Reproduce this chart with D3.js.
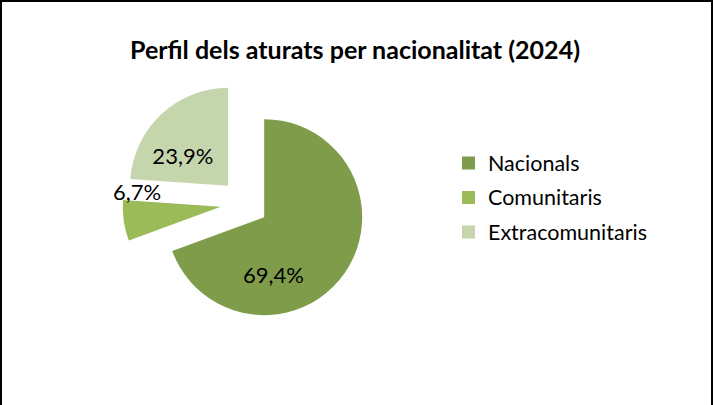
<!DOCTYPE html>
<html>
<head>
<meta charset="utf-8">
<script src="https://cdn.jsdelivr.net/npm/d3@7"></script>
<style>
  html, body { margin: 0; padding: 0; background: #fff; }
  svg { display: block; }
</style>
</head>
<body>
<svg width="713" height="405"></svg>
<script>
const title = 'Perfil dels aturats per nacionalitat (2024)';
const categories = ['Nacionals', 'Comunitaris', 'Extracomunitaris'];
const values = [69.4, 6.7, 23.9];
const colors = ['#7f9c4a', '#9bbb59', '#c5d6ac'];

// label placement tweaks (degrees added to mid angle, distance from slice apex)
const labelAngleShift = [46, 18, -14];
const labelDist = [59, 85, 54];

const width = 713, height = 405;
const cx = 244.5, cy = 203.4, radius = 98, explode = 24;

const fmt = v => d3.format('.1f')(v).replace('.', ',') + '%';

let svg = d3.select('svg');

svg.append('rect')
    .attr('x', 1).attr('y', 1)
    .attr('width', width - 2).attr('height', height + 10)
    .attr('fill', '#fff')
    .attr('stroke', '#000')
    .attr('stroke-width', 2);

svg.append('text')
    .attr('x', 355).attr('y', 59)
    .attr('text-anchor', 'middle')
    .attr('font-family', 'Lato, "Open Sans", sans-serif')
    .attr('font-weight', 'bold')
    .attr('font-size', 24)
    .attr('textLength', 450)
    .attr('lengthAdjust', 'spacingAndGlyphs')
    .text(title);

let data = categories.map((c, i) => ({ name: c, value: values[i], i }));

let pie = d3.pie().sort(null).value(d => d.value);
let arc = d3.arc().innerRadius(0).outerRadius(radius);

let arcs = pie(data);

const polar = (a, r) => [Math.sin(a) * r, -Math.cos(a) * r];

let g = svg.append('g').attr('transform', `translate(${cx},${cy})`);

let slice = g.selectAll('g.slice')
    .data(arcs)
    .enter().append('g')
    .attr('class', 'slice')
    .attr('transform', d => {
      let [dx, dy] = polar((d.startAngle + d.endAngle) / 2, explode);
      return `translate(${dx},${dy})`;
    });

slice.append('path')
    .attr('d', arc)
    .attr('fill', d => colors[d.data.i]);

slice.append('text')
    .attr('transform', d => {
      let a = (d.startAngle + d.endAngle) / 2 + labelAngleShift[d.data.i] * Math.PI / 180;
      let [x, y] = polar(a, labelDist[d.data.i]);
      return `translate(${x},${y})`;
    })
    .attr('text-anchor', 'middle')
    .attr('dy', '0.35em')
    .attr('font-family', 'Lato, "Open Sans", sans-serif')
    .attr('font-size', 22)
    .attr('fill', '#000')
    .text(d => fmt(d.data.value));

let legend = svg.append('g').attr('transform', 'translate(462,0)');

let item = legend.selectAll('g.item')
    .data(categories)
    .enter().append('g')
    .attr('class', 'item')
    .attr('transform', (d, i) => `translate(0,${163 + i * 34.5})`);

item.append('rect')
    .attr('x', 0).attr('y', -6.5)
    .attr('width', 13).attr('height', 13)
    .attr('fill', (d, i) => colors[i]);

item.append('text')
    .attr('x', 26).attr('y', 0)
    .attr('dy', '0.35em')
    .attr('font-family', 'Lato, "Open Sans", sans-serif')
    .attr('font-size', 21.5)
    .attr('fill', '#000')
    .text(d => d);
</script>
</body>
</html>
